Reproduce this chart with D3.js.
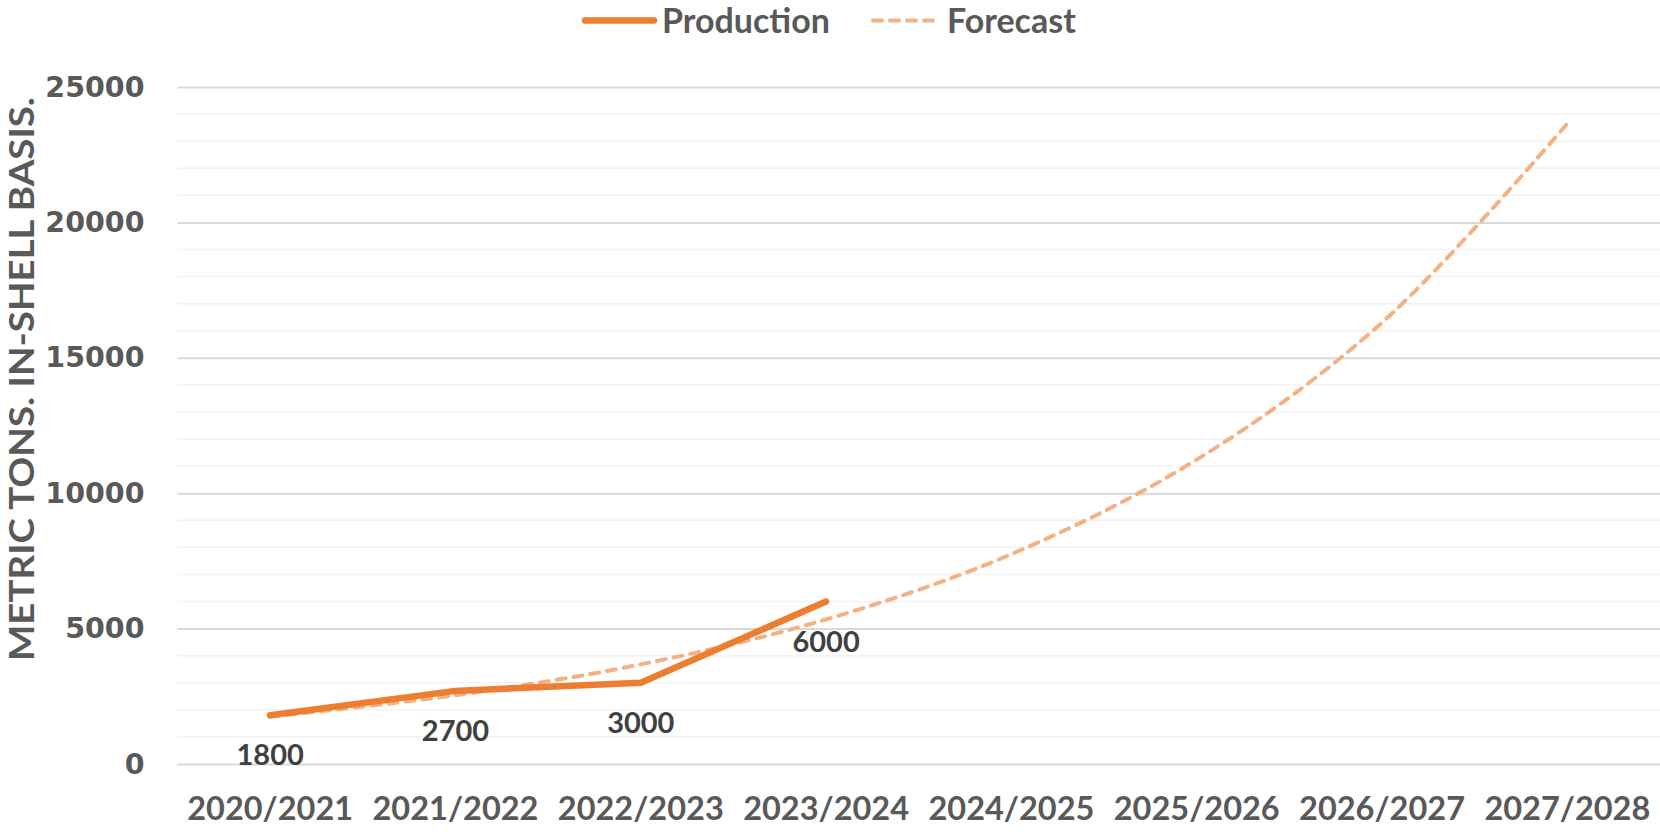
<!DOCTYPE html>
<html>
<head>
<meta charset="utf-8">
<script src="https://cdn.jsdelivr.net/npm/d3@7"></script>
<style>
  html, body { margin: 0; padding: 0; background: #fff; }
  svg { display: block; }
  text { font-family: Lato, "Open Sans", sans-serif; font-weight: 700; }
</style>
</head>
<body>
<svg id="chart" width="1660" height="832"></svg>
<script>
const categories = ["2020/2021","2021/2022","2022/2023","2023/2024","2024/2025","2025/2026","2026/2027","2027/2028"];
const production = [1800, 2700, 3000, 6000];
const forecast = [1750, 2540, 3680, 5340, 7750, 11240, 16300, 23650];
const yTicks = [0, 5000, 10000, 15000, 20000, 25000];
const yMinorStep = 1000;
const yTitle = "METRIC TONS. IN-SHELL BASIS.";
const seriesNames = ["Production", "Forecast"];

const svg = d3.select("#chart");
const plot = {left: 177.5, right: 1660, top: 87, bottom: 764};

const x = d3.scaleBand().domain(categories).range([plot.left, plot.right]).paddingInner(0).paddingOuter(0);
const cx = d => x(d) + x.bandwidth() / 2;
const y = d3.scaleLinear().domain([0, 25000]).range([plot.bottom, plot.top]);

// minor gridlines
const minor = d3.range(0, 25001, yMinorStep).filter(v => v % 5000 !== 0);
svg.append("g").selectAll("line").data(minor).join("line")
  .attr("x1", plot.left).attr("x2", plot.right)
  .attr("y1", d => y(d)).attr("y2", d => y(d))
  .attr("stroke", "#F2F2F2").attr("stroke-width", 1.5);

// y axis (major gridlines + labels)
const yAxis = d3.axisLeft(y).tickValues(yTicks).tickFormat(d3.format("d"))
  .tickSize(-(plot.right - plot.left)).tickPadding(33);
const gy = svg.append("g").attr("transform", `translate(${plot.left},0)`).call(yAxis);
gy.select(".domain").remove();
gy.selectAll(".tick line").attr("stroke", "#D9D9D9").attr("stroke-width", 2);
gy.selectAll(".tick text").attr("fill", "#595959").style("font-size", "28.5px")
  .style("font-family", "'DejaVu Sans', sans-serif").style("font-weight", 700);

// x axis labels
const xAxis = d3.axisBottom(x).tickSize(0).tickPadding(33);
const gx = svg.append("g").attr("transform", `translate(0,${plot.bottom})`).call(xAxis);
gx.select(".domain").remove();
gx.selectAll(".tick text").attr("fill", "#595959").style("font-size", "32.5px")
  .style("font-family", "Lato, sans-serif").style("font-weight", 700);

// y title
svg.append("text")
  .attr("transform", `translate(34,379) rotate(-90)`)
  .attr("text-anchor", "middle")
  .attr("fill", "#595959")
  .style("font-size", "35px")
  .attr("textLength", 564).attr("lengthAdjust", "spacingAndGlyphs")
  .text(yTitle);

// forecast line
const fLine = d3.line().x((d, i) => cx(categories[i])).y(d => y(d)).curve(d3.curveCatmullRom.alpha(0.5));
svg.append("path").datum(forecast)
  .attr("d", fLine).attr("fill", "none")
  .attr("stroke", "#F4B183").attr("stroke-width", 4)
  .attr("stroke-dasharray", "9,8").attr("stroke-linecap", "round");

// production line
const pLine = d3.line().x((d, i) => cx(categories[i])).y(d => y(d));
svg.append("path").datum(production)
  .attr("d", pLine).attr("fill", "none")
  .attr("stroke", "#ED7D31").attr("stroke-width", 6.5)
  .attr("stroke-linecap", "round").attr("stroke-linejoin", "round");

// data labels
svg.append("g").selectAll("text").data(production).join("text")
  .attr("x", (d, i) => cx(categories[i]))
  .attr("y", d => y(d) + 40)
  .attr("dy", "0.35em")
  .attr("text-anchor", "middle")
  .attr("fill", "#404040")
  .style("font-size", "29px")
  .text(d => d);

// legend
const lg = svg.append("g");
lg.append("line").attr("x1", 585).attr("x2", 654).attr("y1", 20.5).attr("y2", 20.5)
  .attr("stroke", "#ED7D31").attr("stroke-width", 6.5).attr("stroke-linecap", "round");
lg.append("text").attr("x", 662).attr("y", 20.5).attr("dy", "0.36em")
  .attr("fill", "#595959").style("font-size", "34px").text(seriesNames[0]);
lg.append("line").attr("x1", 873).attr("x2", 940).attr("y1", 20.5).attr("y2", 20.5)
  .attr("stroke", "#F4B183").attr("stroke-width", 4)
  .attr("stroke-dasharray", "9,8").attr("stroke-linecap", "round");
lg.append("text").attr("x", 947).attr("y", 20.5).attr("dy", "0.36em")
  .attr("fill", "#595959").style("font-size", "34px").text(seriesNames[1]);
</script>
</body>
</html>
